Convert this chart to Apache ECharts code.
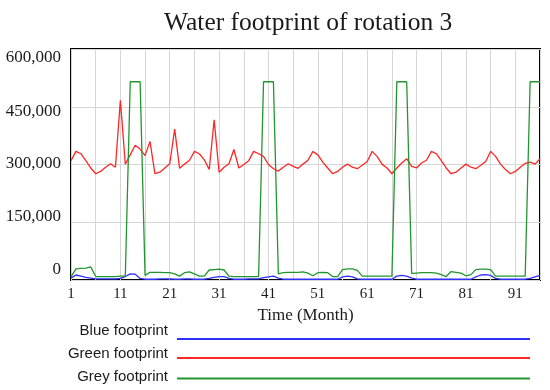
<!DOCTYPE html>
<html>
<head>
<meta charset="utf-8">
<script src="https://cdn.jsdelivr.net/npm/echarts/dist/echarts.min.js"></script>
<style>
html,body{margin:0;padding:0;background:#fff;}
#chart{width:550px;height:390px;}
</style>
</head>
<body>
<div id="chart"></div>
<script>
// Months 1..96
const months = [];
for (let m = 1; m <= 96; m++) months.push(String(m));

const yTicks = [0, 150000, 300000, 450000, 600000];

// "Blue footprint" (blue line)
const blueFootprint = [
  5000, 13000, 10000, 7000, 5000, 3000, 3000, 3000, 3000, 3000,
  4000, 9000, 16000, 15000, 4000, 2000, 2000, 2000, 3000, 3000,
  3000, 2000, 2000, 3000, 3000, 2000, 2000, 2000, 4000, 7000,
  9000, 9000, 4000, 2000, 2000, 2000, 3000, 3000, 3000, 6000,
  8000, 10000, 5000, 2000, 2000, 2000, 2000, 2000, 2000, 2000,
  2000, 2000, 2000, 2000, 2000, 8000, 10000, 8000, 3000, 2000,
  2000, 2000, 2000, 2000, 2000, 2000, 10000, 12000, 10000, 5000,
  2000, 2000, 2000, 2000, 2000, 2000, 2000, 2000, 2000, 2000,
  2000, 2000, 8000, 13000, 14000, 12000, 4000, 2000, 2000, 2000,
  2000, 2000, 2000, 4000, 8000, 12000
];

// "Green footprint" (red line)
const greenFootprint = [
  310000, 334000, 328000, 310000, 291000, 276000, 282000, 293000, 302000, 293000,
  467000, 301000, 325000, 350000, 340000, 323000, 360000, 276000, 280000, 291000,
  302000, 392000, 290000, 301000, 311000, 334000, 328000, 312000, 287000, 416000,
  280000, 293000, 302000, 339000, 291000, 300000, 310000, 334000, 328000, 321000,
  300000, 289000, 283000, 293000, 302000, 295000, 290000, 301000, 311000, 334000,
  325000, 306000, 291000, 276000, 282000, 293000, 301000, 293000, 289000, 298000,
  308000, 334000, 321000, 301000, 291000, 276000, 291000, 304000, 315000, 295000,
  291000, 304000, 311000, 334000, 328000, 310000, 291000, 276000, 280000, 291000,
  301000, 293000, 289000, 298000, 308000, 334000, 321000, 301000, 287000, 276000,
  282000, 293000, 303000, 306000, 301000, 315000
];

// "Grey footprint" (green line)
const greyFootprint = [
  8000, 29000, 30000, 31000, 34000, 9000, 9000, 9000, 9000, 9000,
  10000, 10000, 515000, 515000, 515000, 12000, 20000, 20000, 20000, 19000,
  19000, 16000, 10000, 19000, 21000, 16000, 10000, 10000, 26000, 27000,
  28000, 26000, 10000, 9000, 9000, 9000, 9000, 9000, 9000, 515000,
  515000, 515000, 16000, 19000, 20000, 20000, 20000, 21000, 18000, 11000,
  19000, 20000, 19000, 9000, 9000, 27000, 29000, 29000, 25000, 10000,
  10000, 10000, 10000, 10000, 10000, 10000, 515000, 515000, 515000, 17000,
  18000, 19000, 19000, 19000, 18000, 14000, 9000, 22000, 20000, 18000,
  11000, 14000, 27000, 28000, 28000, 27000, 10000, 10000, 10000, 10000,
  10000, 10000, 10000, 515000, 515000, 515000
];

const seriesNames = ['Blue footprint', 'Green footprint', 'Grey footprint'];
const seriesColors = ['#3030ff', '#ff2626', '#22952e'];

const serif = "'Liberation Serif', 'DejaVu Serif', serif";
const sans = "'Liberation Sans', Arial, sans-serif";

const legendLineWidth = 353;
function legendIcon(w, h) {
  // invisible hairline at top so the visible bar sits at the bottom of the item box
  return 'path://M0,0L' + w + ',0L' + w + ',0.001L0,0.001Z M0,' + (h - 2) + 'L' + w + ',' + (h - 2) + 'L' + w + ',' + h + 'L0,' + h + 'Z';
}
const legendHeights = [19, 11, 6];
const legendTops = [321, 346, 369];

// vertical nudges of the y labels (as in the reference rendering)
const yLabelShift = {0: -10, 150000: -6, 300000: -1, 450000: 5, 600000: 9};
const rich = {};
Object.keys(yLabelShift).forEach(k => {
  const d = yLabelShift[k];
  rich['v' + k] = {
    fontFamily: serif, fontSize: 17, color: '#1a1a1a',
    padding: d >= 0 ? [2 * d, 0, 0, 0] : [0, 0, -2 * d, 0]
  };
});

const chart = echarts.init(document.getElementById('chart'), null, {renderer: 'canvas'});
chart.setOption({
  animation: false,
  backgroundColor: '#ffffff',
  title: {
    text: 'Water footprint of rotation 3',
    left: 159,
    top: 5,
    textStyle: {fontFamily: serif, fontSize: 25.5, fontWeight: 'normal', color: '#1a1a1a'}
  },
  legend: seriesNames.map((n, i) => ({
    data: [n],
    orient: 'vertical',
    align: 'right',
    right: 20,
    top: legendTops[i],
    padding: 0,
    itemWidth: legendLineWidth,
    itemHeight: legendHeights[i],
    icon: legendIcon(legendLineWidth, legendHeights[i]),
    itemStyle: {borderWidth: 0},
    textStyle: {fontFamily: sans, fontSize: 15, color: '#1a1a1a', padding: [0, 4, 0, 0]}
  })),
  grid: {
    left: 71, right: 10, top: 49, bottom: 110,
    show: true, borderColor: '#000', borderWidth: 2, backgroundColor: 'transparent'
  },
  xAxis: {
    type: 'category',
    data: months,
    boundaryGap: false,
    name: 'Time (Month)',
    nameLocation: 'middle',
    nameGap: 23,
    nameTextStyle: {fontFamily: serif, fontSize: 17, color: '#1a1a1a'},
    axisLine: {show: false},
    axisTick: {show: false},
    axisLabel: {interval: 9, fontFamily: serif, fontSize: 15, color: '#1a1a1a', margin: 7},
    splitLine: {show: true, interval: 4, lineStyle: {color: '#d6d6d6', width: 1}}
  },
  yAxis: {
    type: 'value',
    min: yTicks[0],
    max: yTicks[yTicks.length - 1],
    interval: yTicks[1] - yTicks[0],
    axisLine: {show: false},
    axisTick: {show: false},
    axisLabel: {
      fontFamily: serif, fontSize: 17, color: '#1a1a1a', margin: 10,
      formatter: v => '{v' + v + '|' + v.toLocaleString('en-US') + '}',
      rich: rich
    },
    splitLine: {show: true, lineStyle: {color: '#d6d6d6', width: 1}}
  },
  series: [blueFootprint, greenFootprint, greyFootprint].map((d, i) => ({
    name: seriesNames[i],
    type: 'line',
    data: d,
    symbol: 'none',
    color: seriesColors[i],
    lineStyle: {color: seriesColors[i], width: 1.3},
    z: 3 + i
  }))
});
</script>
</body>
</html>
